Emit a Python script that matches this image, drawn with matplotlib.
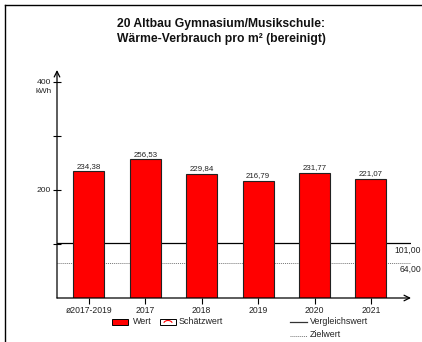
import matplotlib
matplotlib.use("Agg")
import matplotlib.pyplot as plt
from matplotlib.patches import Rectangle, Arc
from matplotlib.lines import Line2D

plt.rcParams['font.family'] = ['Liberation Sans', 'DejaVu Sans']

categories = ["ø2017-2019", "2017", "2018", "2019", "2020", "2021"]
values = [234.38, 256.53, 229.84, 216.79, 231.77, 221.07]
value_labels = ["234,38", "256,53", "229,84", "216,79", "231,77", "221,07"]
vergleichswert = 101.0
zielwert = 64.0
ref_labels = ["101,00", "64,00"]
title = "20 Altbau Gymnasium/Musikschule:\nWärme-Verbrauch pro m² (bereinigt)"

W, H = 422, 342
fig = plt.figure(figsize=(W / 100, H / 100), dpi=100)

def fx(px):
    return px / W

def fy(py):
    return 1 - py / H

# border (top and left)
fig.add_artist(Line2D([fx(5), fx(422)], [fy(5), fy(5)], color='black', lw=1.0, transform=fig.transFigure))
fig.add_artist(Line2D([fx(5), fx(5)], [fy(5), fy(342)], color='black', lw=1.0, transform=fig.transFigure))

ax_l, ax_r, ax_t, ax_b = 57, 411, 70, 298
ax = fig.add_axes([fx(ax_l), fy(ax_b), fx(ax_r - ax_l), (ax_b - ax_t) / H])
ax.set_xlim(-0.564, 5.71)
ax.set_ylim(0, 422)
for s in ax.spines.values():
    s.set_visible(False)
ax.patch.set_alpha(0)

x = list(range(len(categories)))
ax.bar(x, values, width=0.55, color='#ff0000', edgecolor='#222222', linewidth=0.8, zorder=3)
for xi, v, lab in zip(x, values, value_labels):
    ax.text(xi, v + 2.5, lab, ha='center', va='bottom', fontsize=5.7, color='#222222', zorder=4)

ax.axhline(vergleichswert, color='black', lw=0.9, zorder=2)
ax.axhline(zielwert, color='#777777', lw=0.7, ls=(0, (1, 1)), zorder=2)

# axes with arrows
ax.annotate('', xy=(0, 1), xytext=(0, 0), xycoords='axes fraction',
            arrowprops=dict(arrowstyle='->', lw=0.9, color='black', shrinkA=0, shrinkB=0))
ax.annotate('', xy=(1, 0), xytext=(0, 0), xycoords='axes fraction',
            arrowprops=dict(arrowstyle='->', lw=0.9, color='black', shrinkA=0, shrinkB=0))

ax.set_yticks([100, 200, 300, 400])
ax.set_yticklabels(["", "200", "", "400"])
ax.tick_params(axis='y', direction='inout', length=6, width=0.8, labelsize=6.1, pad=1.5, colors='black')
ax.set_xticks(x)
ax.set_xticklabels(categories)
ax.tick_params(axis='x', direction='out', length=4, width=0.8, labelsize=6.2, pad=2)
for t in ax.get_xticklabels() + ax.get_yticklabels():
    t.set_color('#222222')

fig.text(fx(52), fy(91.5), "kWh", ha='right', va='center', fontsize=5.9, color='#222222')

fig.text(fx(421), fy(250), ref_labels[0], ha='right', va='center', fontsize=6.2, color='#222222')
fig.text(fx(421), fy(269), ref_labels[1], ha='right', va='center', fontsize=6.2, color='#222222')

fig.text(fx(221), fy(31.5), title, ha='center', va='center', fontsize=8.7,
         fontweight='bold', linespacing=1.35, color='#111111')

# legend
fs = 6.4
fig.add_artist(Rectangle((fx(112), fy(324.5)), fx(16), (5.5) / H, facecolor='#ff0000',
                         edgecolor='black', lw=0.7, transform=fig.transFigure))
fig.text(fx(133), fy(322), "Wert", ha='left', va='center', fontsize=fs, color='#222222')
fig.add_artist(Rectangle((fx(160), fy(324.5)), fx(16), (5.5) / H, facecolor='white',
                         edgecolor='black', lw=0.7, transform=fig.transFigure))
fig.add_artist(Arc((fx(168), fy(324)), fx(9), 7 / H, theta1=20, theta2=160,
                   color='#ff0000', lw=0.8, transform=fig.transFigure))
fig.text(fx(179), fy(322), "Schätzwert", ha='left', va='center', fontsize=fs, color='#222222')
fig.add_artist(Line2D([fx(290), fx(307)], [fy(322), fy(322)], color='#333333', lw=0.9,
                      transform=fig.transFigure))
fig.text(fx(310), fy(322), "Vergleichswert", ha='left', va='center', fontsize=fs, color='#222222')
fig.add_artist(Line2D([fx(290), fx(307)], [fy(335.5), fy(335.5)], color='#777777', lw=0.7,
                      ls=(0, (1, 1)), transform=fig.transFigure))
fig.text(fx(310), fy(334.5), "Zielwert", ha='left', va='center', fontsize=fs, color='#222222')

fig.savefig("out.png", dpi=100)
